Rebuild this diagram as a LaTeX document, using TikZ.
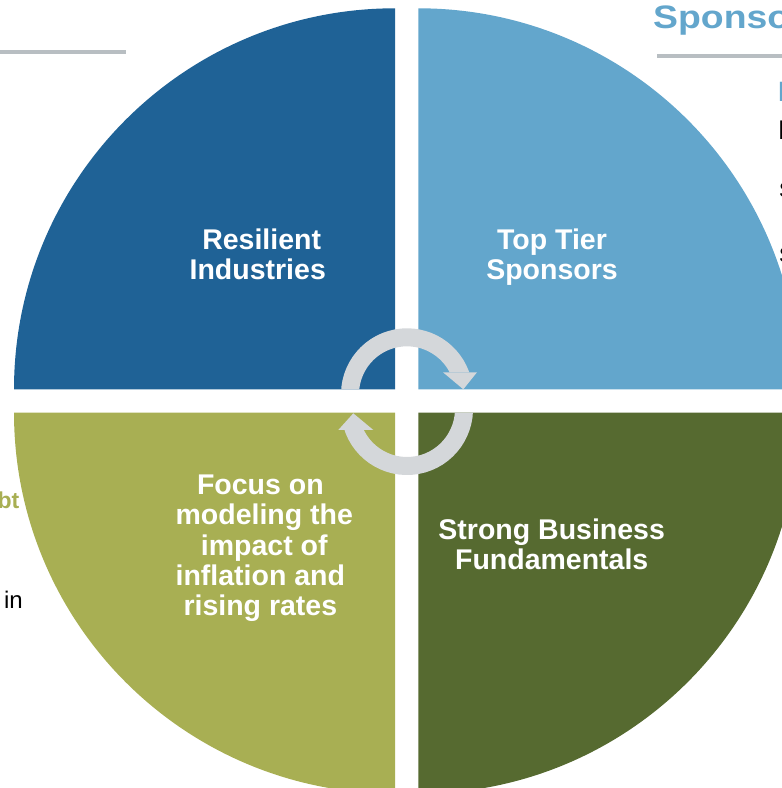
\documentclass[tikz,border=0pt]{standalone}
\usepackage{fontspec}
\setmainfont{Liberation Sans}
\definecolor{darkblue}{HTML}{1F6296}
\definecolor{lightblue}{HTML}{63A6CC}
\definecolor{olive}{HTML}{A8AF53}
\definecolor{darkgreen}{HTML}{566A30}
\definecolor{ringgray}{HTML}{D4D7DA}
\definecolor{rulegray}{HTML}{B8BEC2}
% width of a trailing word space at label size
\newcommand{\tsp}{\kern7.9pt}
\begin{document}
\begin{tikzpicture}[x=1pt,y=1pt,
  quadlabel/.style={text=white, font=\bfseries\fontsize{28.5}{30}\selectfont, inner sep=0pt, anchor=base},
  ring/.style={draw=ringgray, line width=18pt},
  rule/.style={draw=rulegray, line width=4pt},
  sidetext/.style={inner sep=0pt}]
\useasboundingbox (0,0) rectangle (782,788);

% four quarter discs, pulled apart by the white cross
\fill[darkblue]  (395,398.7)   -- ++(180:381pt) arc[start angle=180, end angle=90,  radius=381pt] -- cycle;
\fill[lightblue] (418.3,398.7) -- ++(0:381pt)   arc[start angle=0,   end angle=90,  radius=381pt] -- cycle;
\fill[olive]     (395,375.3)   -- ++(180:381pt) arc[start angle=180, end angle=270, radius=381pt] -- cycle;
\fill[darkgreen] (418.3,375.3) -- ++(0:381pt)   arc[start angle=0,   end angle=-90, radius=381pt] -- cycle;

% header rules
\coordinate (rl1) at (0,736);
\coordinate (rl2) at (126,736);
\draw[rule] (rl1) -- (rl2);
\coordinate (rr1) at (657,731.7);
\coordinate (rr2) at (782,731.7);
\draw[rule] (rr1) -- (rr2);

% cycle arrows in the middle
\coordinate (uc) at (407,393.7);
\coordinate (lc) at (407,379);
\begin{scope}
  \clip (0,398.7) -- (407,398.7) -- (407,415.7) -- (782,415.7) -- (782,788) -- (0,788) -- cycle;
  \draw[ring] (uc) ++(185:57pt) arc[start angle=185, end angle=10, radius=57pt];
\end{scope}
\fill[ringgray] (443,415.7) -- (477,415.7) -- (463.3,398.7) -- cycle;
\begin{scope}
  \clip (782,375.3) -- (407,375.3) -- (407,358) -- (0,358) -- (0,0) -- (782,0) -- cycle;
  \draw[ring] (lc) ++(10:57pt) arc[start angle=10, end angle=-170, radius=57pt];
\end{scope}
\fill[ringgray] (338.3,358) -- (373.3,358) -- (353.3,374.7) -- cycle;

% quadrant labels
\node[quadlabel] (res) at (261.7,538.7) {\begin{tabular}[t]{@{}c@{}}Resilient\\Industries\tsp\end{tabular}};
\node[quadlabel] (top) at (552,538.7) {\begin{tabular}[t]{@{}c@{}}Top Tier\\Sponsors\end{tabular}};
\node[quadlabel] (foc) at (264.3,293.7) {\fontsize{28.5}{30.4}\selectfont\begin{tabular}[t]{@{}c@{}}Focus on\tsp\\modeling the\\impact of\\inflation and\tsp\\rising rates\tsp\end{tabular}};
\node[quadlabel] (fun) at (551.7,248.5) {\begin{tabular}[t]{@{}c@{}}Strong Business\\Fundamentals\end{tabular}};

% neighbouring text at the page edges
\node[sidetext, anchor=base west, text=lightblue, font=\bfseries\fontsize{32.5}{36}\selectfont\addfontfeature{FakeStretch=1.15}] (spon) at (653,759.7) {Sponsors};
\node[sidetext, anchor=base west, text=lightblue, font=\bfseries\fontsize{28}{30}\selectfont] (ra) at (778,686) {E};
\node[sidetext, anchor=base west, font=\fontsize{27}{30}\selectfont] (rb) at (778,648) {E};
\node[sidetext, anchor=base west, font=\fontsize{21}{24}\selectfont] (rc) at (779,590) {S};
\node[sidetext, anchor=base west, font=\fontsize{21}{24}\selectfont] (rd) at (779,525) {S};
\node[sidetext, anchor=base east, text=olive, font=\bfseries\fontsize{23}{26}\selectfont] (debt) at (19.5,279) {Debt};
\node[sidetext, anchor=base east, font=\fontsize{24}{28}\selectfont] (lin) at (23,179) {in};
\end{tikzpicture}
\end{document}
